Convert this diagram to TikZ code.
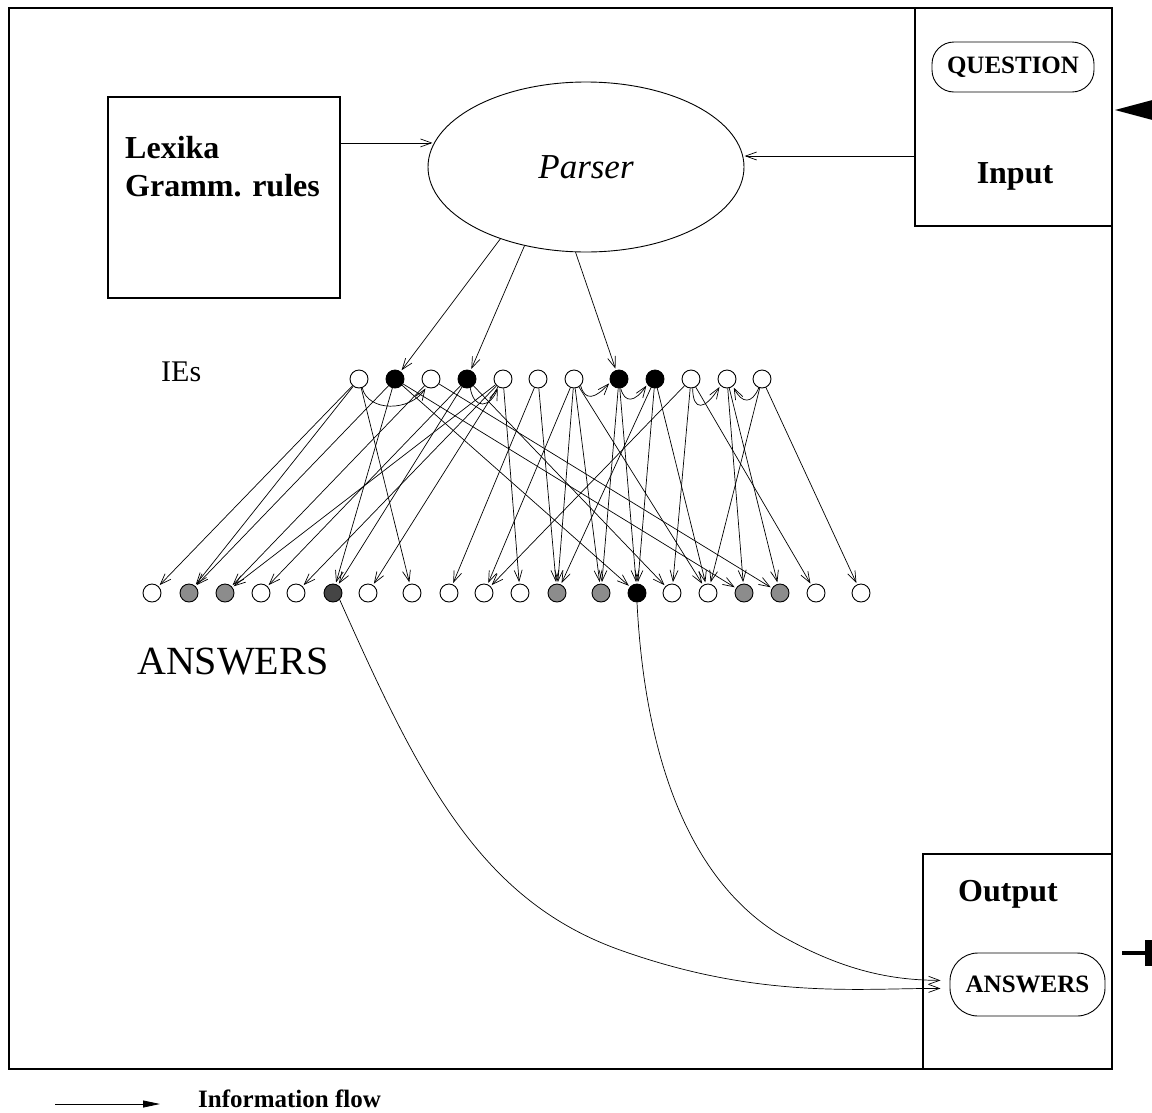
\documentclass[tikz,border=0pt]{standalone}
\usepackage{fontspec}
\setmainfont{Liberation Serif}
\usetikzlibrary{arrows.meta,shapes.geometric}
\definecolor{midg}{HTML}{8C8C8C}
\definecolor{darkg}{HTML}{454545}
\begin{document}
\begin{tikzpicture}[x=1pt,y=-1pt,
  dot/.style={circle,draw,line width=0.9pt,minimum size=18pt,inner sep=0pt,fill=white},
  gdot/.style={dot,fill=midg},
  ddot/.style={dot,fill=darkg},
  kdot/.style={dot,fill=black},
  flow/.style={line width=0.7pt,-{Straight Barb[length=11pt,width=8pt,line width=0.7pt]},shorten >=1.5pt},
  boxline/.style={draw,line width=1.1pt},
  bigbold/.style={font=\fontsize{32}{38}\selectfont\bfseries,inner sep=0pt},
  smallbold/.style={font=\fontsize{25}{29}\selectfont\bfseries,inner sep=0pt},
  plain/.style={font=\fontsize{30}{36}\selectfont,inner sep=0pt}
]
\useasboundingbox (0,0) rectangle (1152,1112);

% outer frame
\draw[line width=1.3pt] (9,8) rectangle (1112,1069);

% Lexika box
\node[boxline,minimum width=232pt,minimum height=201pt,inner sep=0pt] (L) at (224,197.5) {};
\node[bigbold,anchor=base west] (Ltx1) at (125,158) {Lexika};
\node[bigbold,anchor=base west] (Ltx2) at (125,196) {Gramm. rules};

% Parser
\node[ellipse,draw,line width=0.9pt,minimum width=316pt,minimum height=170pt,inner sep=0pt,
      font=\fontsize{35}{40}\selectfont\itshape] (P) at (586,167) {Parser};

% Input box
\node[boxline,minimum width=197pt,minimum height=218pt,inner sep=0pt] (In) at (1013.5,117) {};
\node[smallbold,draw,line width=0.9pt,rounded corners=22pt,minimum width=162pt,minimum height=50pt] (Q) at (1013,67) {QUESTION};
\node[bigbold] (Intx) at (1015,176) {Input};

% Output box
\node[boxline,minimum width=189pt,minimum height=215pt,inner sep=0pt] (Out) at (1017.5,961.5) {};
\node[bigbold] (Outtx) at (1008,894) {Output};
\node[smallbold,draw,line width=0.9pt,rounded corners=28pt,minimum width=155pt,minimum height=63pt] (AB) at (1027.5,984.5) {ANSWERS};

% side marks (clipped by page edge)
\fill (1115,110) -- (1160,98) -- (1160,122) -- cycle;
\draw[line width=3.5pt] (1122,953) -- (1150,953);
\fill (1145,940) rectangle (1160,966);

% labels
\node[plain,anchor=base west] (IEs) at (161,381) {IEs};
\node[plain,font=\fontsize{40}{46}\selectfont,anchor=base west] (AnsL) at (137,674) {ANSWERS};

% IE row
\foreach \i/\x/\s in {1/359/dot,2/395/kdot,3/431/dot,4/467/kdot,5/503/dot,6/538/dot,7/574/dot,8/619/kdot,9/655/kdot,10/691/dot,11/727/dot,12/762/dot}
  \node[\s] (I\i) at (\x,379) {};

% Answers row
\foreach \i/\x/\s in {1/152/dot,2/189/gdot,3/225/gdot,4/261/dot,5/296/dot,6/333/ddot,7/368/dot,8/412/dot,9/449/dot,10/484/dot,11/520/dot,12/557/gdot,13/601/gdot,14/637/kdot,15/672/dot,16/708/dot,17/744/gdot,18/780/gdot,19/816/dot,20/861/dot}
  \node[\s] (A\i) at (\x,593) {};

% inputs to parser
\draw[flow] (L.east |- P.171) -- (P.171);
\draw[flow] (In.west |- P.4) -- (P.4);

% parser to IEs
\draw[flow] (P.220) -- (I2);
\draw[flow] (P.232) -- (I4);
\draw[flow] (P.263) -- (I8);

% IE to answers
\foreach \s/\t in {1/1,1/2,1/8,2/2,2/6,2/14,2/17,3/3,3/18,4/4,4/6,4/15,5/5,5/7,5/11,5/3,
                   6/9,6/12,7/10,7/12,7/13,7/16,8/13,8/14,9/12,9/14,9/16,
                   10/10,10/15,10/19,11/17,11/18,12/16,12/20}
  \draw[flow] (I\s) -- (A\t);

% IE to IE curves
\draw[flow] (I1.-70) .. controls (368,412) and (410,412) .. (I3.-120);
\draw[flow] (I4.-70) .. controls (474,410) and (490,408) .. (I5.-120);
\draw[flow] (I7.-45) .. controls (585,402) and (596,398) .. (I8.200);
\draw[flow] (I8.-80) .. controls (625,404) and (635,402) .. (I9.215);
\draw[flow] (I10.-80) .. controls (693,412) and (705,410) .. (I11.225);
\draw[flow] (I12.-110) .. controls (752,404) and (742,404) .. (I11.-50);

% answers to output
\draw[flow,shorten >=9pt] (A6.south east) .. controls (420,780) and (480,900) .. (620,950)
   .. controls (760,1000) and (860,988) .. ([yshift=-4pt]AB.west);
\draw[flow,shorten >=9pt] (A14.south) .. controls (645,760) and (690,880) .. (780,935)
   .. controls (850,975) and (900,980) .. ([yshift=4pt]AB.west);

% legend
\coordinate (lgA) at (55,1104);
\node[font=\fontsize{25}{30}\selectfont\bfseries,inner sep=0pt,anchor=base west] (lgT) at (198,1107) {Information flow};
\draw[line width=0.8pt,-{Triangle[length=17pt,width=7pt]}] (lgA) -- (lgA -| 160,0);
\end{tikzpicture}
\end{document}
